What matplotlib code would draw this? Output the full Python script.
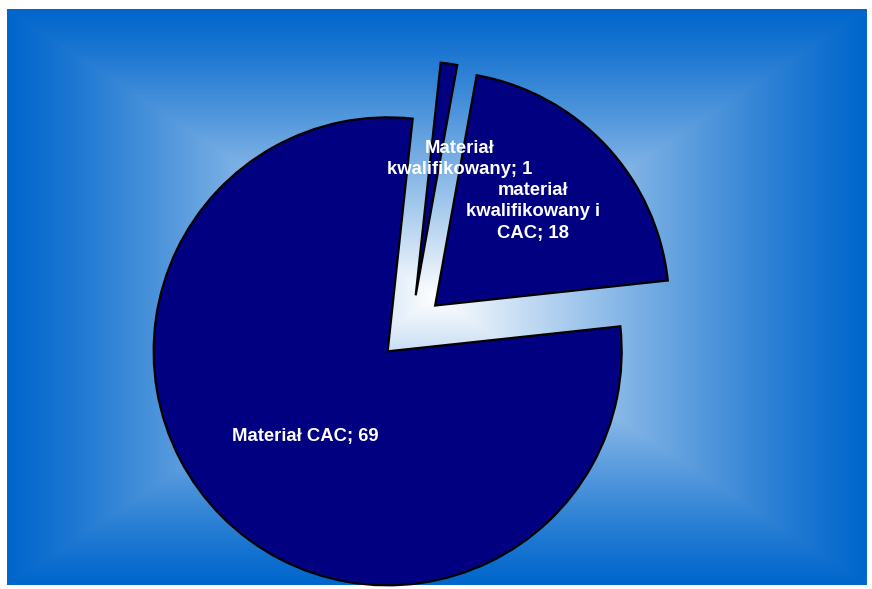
import numpy as np
import matplotlib
matplotlib.use("Agg")
from matplotlib import pyplot as plt

labels = ['Materiał\nkwalifikowany; 1', 'materiał\nkwalifikowany i\nCAC; 18', 'Materiał CAC; 69']
values = [1, 18, 69]
label_xy = [(460, 430), (533, 377), (305, 152)]  # label centres, px from bottom-left

W, H = 872, 589
fig = plt.figure(figsize=(W / 100, H / 100), dpi=100)
fig.patch.set_facecolor('white')
ax = fig.add_axes([0, 0, 1, 1])

# box gradient: white in the middle, blue towards the frame
x0, x1, y0, y1 = 7, 866, 4, 580
gx, gy = np.meshgrid(np.linspace(-1, 1, x1 - x0), np.linspace(-1, 1, y1 - y0))
t = np.maximum(np.abs(gx), np.abs(gy))[..., None]
edge = np.array([0, 102, 204]) / 255
img = edge + (1 - edge) * (1 - t) ** 1.15
ax.imshow(img, extent=(x0, x1, y0, y1), origin='lower', zorder=0,
          interpolation='bilinear', aspect='auto')

# small slices centred on the upper-right diagonal
start = 45 + 180 * (values[0] + values[1]) / sum(values)
wedges, _ = ax.pie(values, center=(411, 261), radius=234, explode=[33] * 3,
                   startangle=start, counterclock=False,
                   colors=['#000080'] * 3,
                   wedgeprops=dict(edgecolor='black', linewidth=1.6),
                   frame=True)
for w in wedges:
    w.set_zorder(2)

for txt, (tx, ty) in zip(labels, label_xy):
    ax.text(tx, ty, txt, ha='center', va='center', multialignment='center',
            color='white', fontsize=13.3, fontweight='bold',
            family='Liberation Sans', linespacing=1.38, zorder=3)

ax.set_xlim(0, W)
ax.set_ylim(0, H)
ax.set_aspect('auto')
ax.axis('off')

fig.savefig('out.png', dpi=100)
